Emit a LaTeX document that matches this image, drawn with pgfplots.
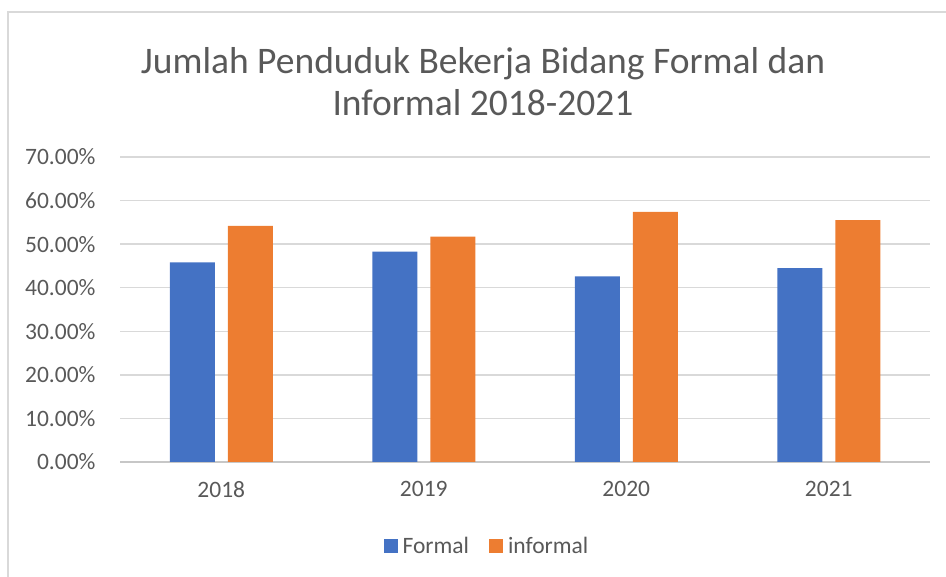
\documentclass[border=0pt]{standalone}
\usepackage{pgfplots}
\pgfplotsset{compat=1.18}
\usepackage{fontspec}
\setmainfont{Carlito}
\definecolor{cblue}{HTML}{4472C4}
\definecolor{corange}{HTML}{ED7D31}
\definecolor{ctext}{HTML}{595959}
\definecolor{cgrid}{HTML}{D9D9D9}
\begin{document}
\begin{tikzpicture}[x=1pt,y=1pt]
\path[use as bounding box] (0,0) rectangle (946,577);
\draw[cgrid,line width=2pt] (8,0) -- (8,565) -- (946,565);
\node[text=ctext,font=\fontsize{37.5}{42}\selectfont,align=center] at (483,495) {Jumlah Penduduk Bekerja Bidang Formal dan\\Informal 2018-2021};
\begin{axis}[
  at={(221.25pt,115pt)}, anchor=origin,
  scale only axis, width=810pt, height=305pt,
  ybar=13pt, bar width=45pt,
  xmin=-0.5, xmax=3.5, ymin=0, ymax=70,
  xtick={0,1,2,3}, xticklabels={2018,2019,2020,2021},
  ytick={0,10,20,30,40,50,60,70},
  yticklabel={\pgfmathprintnumber[fixed,fixed zerofill,precision=2]{\tick}\%},
  /pgf/number format/assume math mode=true,
  major tick length=0pt,
  ymajorgrids, grid style={cgrid,line width=1.5pt},
  axis line style={draw=none},
  x axis line style={draw=cgrid!80!gray,line width=1.5pt},
  axis x line*=bottom, axis y line*=left,
  ticklabel style={text=ctext,font=\fontsize{23.5}{27}\selectfont},
  xticklabel style={yshift=-16pt},
  yticklabel style={xshift=-21pt},
  legend style={at={(0.453,-0.277)},anchor=center,draw=none,legend columns=2,
    font=\fontsize{23.5}{27}\selectfont,text=ctext,
    /tikz/every odd column/.append style={column sep=3pt},
    /tikz/every even column/.append style={column sep=18pt}},
  legend image code/.code={\fill[#1] (0pt,-7pt) rectangle (14pt,7pt);},
  clip=false,
]
\addplot[fill=cblue,draw=none] coordinates {(0,45.8) (1,48.3) (2,42.6) (3,44.5)};
\addplot[fill=corange,draw=none] coordinates {(0,54.2) (1,51.7) (2,57.4) (3,55.5)};
\legend{Formal,informal}
\end{axis}
\end{tikzpicture}
\end{document}
